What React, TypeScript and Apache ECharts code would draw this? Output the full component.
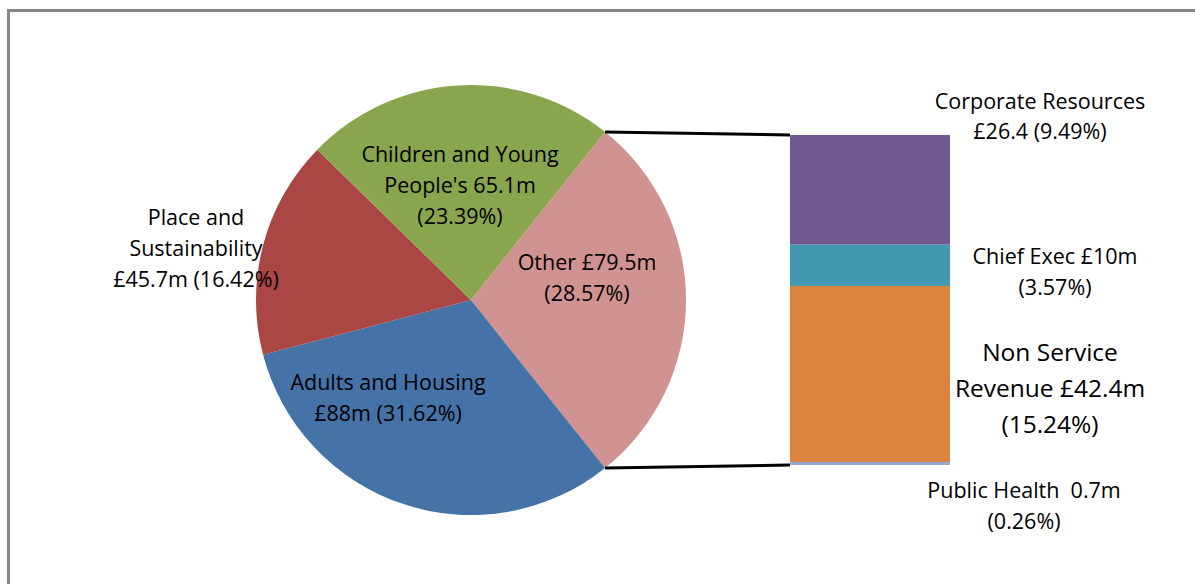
import React, { useEffect, useRef } from 'react';
import * as echarts from 'echarts';

const pieNames = ['Other', 'Adults and Housing', 'Place and Sustainability', "Children and Young People's"];
const pieValues = [79.5, 88, 45.7, 65.1];
const pieLabels = [
  'Other £79.5m\n(28.57%)',
  'Adults and Housing\n£88m (31.62%)',
  'Place and\nSustainability\n£45.7m (16.42%)',
  "Children and Young\nPeople's 65.1m\n(23.39%)",
];
const pieColors = ['#D19392', '#4572A7', '#AA4643', '#89A54E'];

const barNames = ['Corporate Resources', 'Chief Exec', 'Non Service Revenue', 'Public Health'];
const barValues = [26.4, 10, 42.4, 0.7];
const barLabels = [
  'Corporate Resources\n£26.4 (9.49%)',
  'Chief Exec £10m\n(3.57%)',
  'Non Service\nRevenue £42.4m\n(15.24%)',
  'Public Health  0.7m\n(0.26%)',
];
const barColors = ['#71588F', '#4198AF', '#DB843D', '#93A9CF'];

// layout (pixels)
const PIE_CX = 471;
const PIE_CY = 300;
const PIE_R = 215;
const GRID = { left: 790, top: 135, width: 160, height: 330 };
const pieLabelPos: [number, number][] = [
  [587, 277],
  [388, 397],
  [196, 247],
  [460, 184],
];
const barLabelPos: [number, number][] = [
  [1040, 115],
  [1055, 271],
  [1050, 387],
  [1024, 505],
];
const barLabelSize = [21.5, 21.5, 24.5, 21.5];
const barLabelLH = [30, 31, 36, 31];

const FONT = 'Open Sans';

export default function App() {
  const ref = useRef<HTMLDivElement>(null);
  useEffect(() => {
    if (!ref.current) return;
    const chart = echarts.init(ref.current, undefined, { renderer: 'svg' });
    const pieTotal = pieValues.reduce((a, b) => a + b, 0);
    const otherSpan = (pieValues[0] / pieTotal) * 360;
    const startAngle = otherSpan / 2;
    const rad = (startAngle * Math.PI) / 180;
    const topV = [PIE_CX + PIE_R * Math.cos(rad), PIE_CY - PIE_R * Math.sin(rad)];
    const botV = [PIE_CX + PIE_R * Math.cos(rad), PIE_CY + PIE_R * Math.sin(rad)];
    const barTotal = barValues.reduce((a, b) => a + b, 0);

    const barSeries = barNames
      .map((name, i) => ({
        type: 'bar',
        name,
        stack: 'other',
        barWidth: '100%',
        data: [barValues[i]],
        itemStyle: { color: barColors[i] },
        label: {
          show: true,
          position: 'inside',
          formatter: () => barLabels[i],
          color: '#000',
          fontFamily: FONT,
          fontSize: barLabelSize[i],
          lineHeight: barLabelLH[i],
          align: 'center',
        },
        labelLayout: () => ({
          x: barLabelPos[i][0],
          y: barLabelPos[i][1],
          align: 'center',
          verticalAlign: 'middle',
        }),
      }))
      .reverse();

    chart.setOption({
      animation: false,
      backgroundColor: '#fff',
      grid: { ...GRID },
      xAxis: { type: 'category', data: ['Other'], show: false },
      yAxis: { type: 'value', min: 0, max: barTotal, show: false },
      graphic: [
        {
          type: 'rect',
          shape: { x: 8.5, y: 10.5, width: 1220, height: 620 },
          style: { fill: 'none', stroke: '#878787', lineWidth: 3 },
          silent: true,
        },
        {
          type: 'line',
          shape: { x1: topV[0], y1: topV[1], x2: GRID.left, y2: GRID.top },
          style: { stroke: '#000', lineWidth: 3 },
          z: 10,
        },
        {
          type: 'line',
          shape: { x1: botV[0], y1: botV[1], x2: GRID.left, y2: GRID.top + GRID.height },
          style: { stroke: '#000', lineWidth: 3 },
          z: 10,
        },
      ],
      series: [
        {
          type: 'pie',
          center: [PIE_CX, PIE_CY],
          radius: PIE_R,
          startAngle,
          clockwise: true,
          avoidLabelOverlap: false,
          data: pieNames.map((name, i) => ({
            name,
            value: pieValues[i],
            itemStyle: { color: pieColors[i] },
          })),
          itemStyle: { borderWidth: 0 },
          label: {
            show: true,
            position: 'inside',
            formatter: (p: any) => pieLabels[p.dataIndex],
            color: '#000',
            fontFamily: FONT,
            fontSize: 21.5,
            lineHeight: 31,
            align: 'center',
          },
          labelLine: { show: false },
          labelLayout: (p: any) => ({
            x: pieLabelPos[p.dataIndex][0],
            y: pieLabelPos[p.dataIndex][1],
            align: 'center',
            verticalAlign: 'middle',
          }),
          emphasis: { disabled: true },
        },
        ...barSeries,
      ],
    });
    return () => chart.dispose();
  }, []);
  return (
    <div
      ref={ref}
      style={{ position: 'absolute', left: 0, top: 0, width: 1195, height: 584 }}
    />
  );
}
